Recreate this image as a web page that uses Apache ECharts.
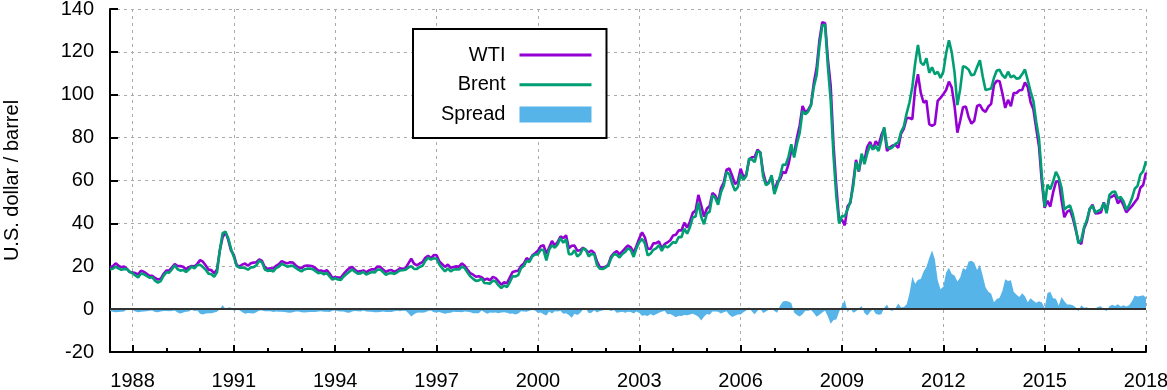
<!DOCTYPE html>
<html>
<head>
<meta charset="utf-8">
<script src="https://cdn.jsdelivr.net/npm/echarts@6/dist/echarts.min.js"></script>
<style>
html,body{margin:0;padding:0;background:#fff;}
#chart{width:1167px;height:390px;}
</style>
</head>
<body>
<div id="chart"></div>
<script>
// Monthly spot prices, first value = May 1987, last = Jan 2018
const startYear = 1987;
const startMonth = 5;
const wti = [
  19.44, 20.07, 21.34, 20.31, 19.53, 19.86, 18.85, 17.28,
  17.13, 16.80, 16.20, 17.86, 17.42, 16.53, 15.50, 15.52, 14.54, 13.77, 14.14, 16.38,
  18.02, 17.94, 19.48, 21.07, 20.12, 20.05, 19.78, 18.58, 19.59, 20.10, 19.86, 21.10,
  22.86, 22.11, 20.39, 18.43, 18.20, 16.70, 18.45, 27.31, 33.51, 36.04, 32.33, 27.28,
  25.23, 20.48, 19.90, 20.83, 21.23, 20.19, 21.40, 21.69, 21.89, 23.23, 22.46, 19.50,
  18.79, 19.01, 18.92, 20.23, 20.98, 22.39, 21.78, 21.34, 21.88, 21.69, 20.34, 19.41,
  19.03, 20.09, 20.32, 20.25, 19.95, 19.09, 17.89, 18.01, 17.50, 18.15, 16.61, 14.52,
  15.03, 14.78, 14.68, 16.42, 17.89, 19.06, 19.65, 18.38, 17.45, 17.72, 18.07, 17.16,
  18.04, 18.57, 18.54, 19.90, 19.74, 18.45, 17.33, 18.02, 18.23, 17.43, 17.99, 19.03,
  18.85, 19.09, 21.33, 23.50, 21.17, 20.42, 21.30, 21.90, 23.97, 24.88, 23.71, 25.23,
  25.13, 22.18, 20.97, 19.70, 20.82, 19.26, 19.66, 19.95, 19.80, 21.33, 20.19, 18.33,
  16.72, 16.06, 15.12, 15.35, 14.91, 13.72, 14.17, 13.47, 15.03, 14.46, 13.00, 11.35,
  12.52, 12.01, 14.68, 17.31, 17.72, 17.92, 20.10, 21.28, 23.80, 22.69, 25.00, 26.10,
  27.26, 29.37, 29.84, 25.72, 28.79, 31.82, 29.70, 31.26, 33.88, 33.11, 34.42, 28.44,
  29.59, 29.61, 27.25, 27.49, 28.63, 27.60, 26.43, 27.37, 26.20, 22.17, 19.64, 19.39,
  19.72, 20.72, 24.53, 26.18, 27.04, 25.52, 26.97, 28.39, 29.66, 28.84, 26.35, 29.46,
  32.95, 35.83, 33.51, 28.17, 28.11, 30.66, 30.76, 31.57, 28.31, 30.34, 31.11, 32.13,
  34.31, 34.69, 36.74, 36.75, 40.28, 38.03, 40.78, 44.90, 45.94, 53.28, 48.47, 43.15,
  46.84, 48.15, 54.19, 52.98, 49.83, 56.35, 59.00, 64.99, 65.59, 62.26, 58.32, 59.41,
  65.49, 61.63, 62.69, 69.44, 70.84, 70.95, 74.41, 73.04, 63.80, 58.89, 59.08, 61.96,
  54.51, 59.28, 60.44, 63.98, 63.46, 67.49, 74.12, 72.36, 79.92, 85.80, 94.77, 91.69,
  92.97, 95.39, 105.45, 112.58, 125.40, 133.88, 133.37, 116.67, 104.11, 76.61, 57.31, 41.12,
  41.71, 39.09, 47.94, 49.65, 59.03, 69.64, 64.15, 71.05, 69.41, 75.72, 77.99, 74.47,
  78.33, 76.39, 81.20, 84.29, 73.74, 75.34, 76.32, 76.60, 75.24, 81.89, 84.25, 89.15,
  89.17, 88.58, 102.86, 109.53, 100.90, 96.26, 97.30, 86.33, 85.52, 86.32, 97.16, 98.56,
  100.27, 102.20, 106.16, 103.32, 94.66, 82.30, 87.90, 94.13, 94.51, 89.49, 86.53, 87.86,
  94.76, 95.31, 92.94, 92.02, 94.51, 95.77, 104.67, 106.57, 106.29, 100.54, 93.86, 97.63,
  94.62, 100.82, 100.80, 102.07, 102.18, 105.79, 103.59, 96.54, 93.21, 84.40, 75.79, 59.29,
  47.22, 50.58, 47.82, 54.45, 59.27, 59.82, 50.90, 42.87, 45.48, 46.22, 42.44, 37.19,
  31.68, 30.32, 37.55, 40.75, 46.71, 48.76, 44.65, 44.72, 45.18, 49.78, 45.66, 51.97,
  52.50, 53.47, 49.33, 51.06, 48.48, 45.18, 46.63, 48.04, 49.82, 51.58, 56.64, 57.88,
  63.70
];
const brent = [
  18.58, 18.86, 19.86, 18.98, 18.31, 18.76, 18.67, 17.42,
  16.75, 15.73, 14.73, 16.60, 16.31, 15.49, 14.71, 14.91, 13.24, 12.34, 13.04, 15.51,
  17.16, 16.97, 18.62, 20.44, 18.58, 17.96, 18.23, 17.31, 18.44, 19.85, 19.04, 20.49,
  20.72, 19.61, 18.35, 16.56, 16.27, 15.09, 17.19, 27.24, 35.46, 36.08, 33.04, 28.05,
  24.32, 20.03, 19.36, 19.37, 19.10, 18.40, 19.46, 19.61, 20.42, 22.57, 21.80, 18.48,
  17.83, 18.07, 17.55, 19.16, 19.80, 21.17, 20.48, 19.79, 20.16, 20.19, 19.20, 18.28,
  17.63, 18.51, 18.88, 18.91, 18.63, 17.71, 16.80, 17.06, 16.26, 16.91, 15.29, 13.73,
  14.39, 13.84, 13.62, 15.27, 16.35, 17.41, 18.49, 17.48, 16.48, 16.62, 17.39, 16.09,
  16.76, 17.29, 17.06, 18.45, 18.42, 17.29, 15.98, 16.65, 16.90, 16.39, 17.19, 18.04,
  18.14, 18.36, 19.42, 20.05, 18.79, 18.75, 19.68, 20.20, 22.55, 24.06, 23.06, 23.76,
  23.54, 20.84, 19.13, 17.56, 19.02, 17.58, 18.46, 18.60, 18.46, 19.86, 19.08, 17.13,
  15.27, 14.11, 13.16, 13.41, 14.23, 12.21, 12.06, 11.91, 13.35, 12.94, 11.07, 9.82,
  11.08, 10.27, 12.51, 15.29, 15.23, 15.86, 19.08, 20.22, 22.54, 21.98, 24.58, 25.51,
  25.51, 27.78, 27.49, 22.76, 27.74, 29.80, 28.68, 30.20, 33.14, 30.96, 32.55, 25.66,
  25.62, 27.50, 24.50, 25.66, 28.31, 27.85, 24.61, 25.68, 25.62, 20.54, 18.80, 18.71,
  19.42, 20.28, 23.70, 25.73, 25.35, 24.08, 25.74, 26.65, 28.40, 27.54, 24.34, 28.33,
  31.18, 32.77, 30.61, 25.00, 25.86, 27.65, 28.35, 29.89, 27.11, 29.61, 28.75, 29.81,
  31.28, 30.86, 33.63, 33.59, 37.57, 35.18, 38.22, 42.74, 43.20, 49.78, 43.11, 39.60,
  44.51, 45.48, 53.10, 51.88, 48.65, 54.35, 57.52, 63.98, 62.91, 58.54, 55.24, 56.86,
  62.99, 60.21, 62.06, 70.26, 69.78, 68.56, 73.67, 73.23, 61.96, 57.81, 58.76, 62.47,
  53.68, 57.56, 62.05, 67.49, 67.21, 71.05, 76.93, 70.76, 77.17, 82.34, 92.41, 90.93,
  92.18, 94.99, 103.64, 109.07, 122.80, 132.32, 132.72, 113.24, 97.23, 71.58, 52.45, 39.95,
  43.44, 43.32, 46.54, 50.18, 57.30, 68.61, 64.44, 72.51, 67.65, 72.77, 76.66, 74.46,
  76.17, 73.75, 78.83, 84.82, 75.95, 74.76, 75.58, 77.04, 77.84, 82.67, 85.28, 91.45,
  96.52, 103.72, 114.64, 123.26, 114.99, 113.83, 116.97, 110.22, 112.83, 109.55, 110.77, 107.87,
  110.69, 119.33, 125.45, 119.75, 110.34, 95.16, 102.62, 113.36, 112.86, 111.71, 109.06, 109.49,
  112.96, 116.05, 108.47, 102.25, 102.56, 102.92, 107.93, 111.28, 111.60, 109.08, 107.79, 110.76,
  108.12, 108.90, 107.48, 107.76, 109.54, 111.80, 106.77, 101.61, 97.09, 87.43, 79.44, 62.34,
  47.76, 58.10, 55.89, 59.52, 64.08, 61.48, 56.56, 46.52, 47.62, 48.43, 44.27, 38.01,
  30.70, 32.18, 38.21, 41.58, 46.74, 48.25, 44.95, 45.84, 46.57, 49.52, 44.73, 53.31,
  54.58, 54.87, 51.59, 52.31, 50.33, 46.37, 48.48, 51.70, 56.15, 57.51, 62.71, 64.37,
  69.08
];
const seriesNames = ['WTI', 'Brent', 'Spread'];
const majorYears = [1988, 1991, 1994, 1997, 2000, 2003, 2006, 2009, 2012, 2015, 2018];
const minorYears = [];
for (let y = 1988; y <= 2018; y++) minorYears.push(y);
const yTicks = { min: -20, max: 140, step: 20 };
const yTitle = 'U.S. dollar / barrel';

// build time coordinate (decimal year) from the month index
const xs = wti.map((_, i) => startYear + (startMonth - 1 + i) / 12);
const xMin = xs[0];
const xMax = xs[xs.length - 1];
const wtiData = wti.map((v, i) => [xs[i], v]);
const brentData = brent.map((v, i) => [xs[i], v]);
const spreadData = brent.map((v, i) => [xs[i], +(v - wti[i]).toFixed(2)]);

const FONT = 'Liberation Sans, Arial, sans-serif';
const chart = echarts.init(document.getElementById('chart'), null, { renderer: 'canvas' });
const linePath = 'path://M0,0 L72,0 L72,3 L0,3 Z';

chart.setOption({
  animation: false,
  textStyle: { fontFamily: FONT, color: '#000' },
  grid: { left: 110, right: 21, top: 9, bottom: 38, containLabel: false, outerBoundsMode: 'none' },
  legend: {
    orient: 'vertical',
    left: 413,
    top: 29,
    align: 'right',
    itemWidth: 72,
    itemHeight: 16,
    itemGap: 9.75,
    padding: [16, 15, 13.5, 28],
    borderColor: '#000',
    borderWidth: 2,
    backgroundColor: '#fff',
    symbolKeepAspect: true,
    itemStyle: { borderWidth: 0 },
    textStyle: { fontSize: 20, fontFamily: FONT, color: '#000', lineHeight: 16, padding: [0, 9, 0, 0] },
    data: [
      { name: seriesNames[0], icon: linePath },
      { name: seriesNames[1], icon: linePath },
      { name: seriesNames[2], icon: 'rect' }
    ]
  },
  xAxis: [
    {
      type: 'value', min: xMin, max: xMax, position: 'bottom',
      axisLine: { show: true, onZero: false, lineStyle: { color: '#000', width: 2 } },
      axisTick: { show: true, inside: true, length: 4, customValues: minorYears, lineStyle: { color: '#000', width: 2 } },
      axisLabel: { show: false },
      splitLine: { show: false }
    },
    {
      type: 'value', min: xMin, max: xMax, position: 'bottom',
      axisLine: { show: false, onZero: false },
      axisTick: { show: true, inside: true, length: 7, customValues: majorYears, lineStyle: { color: '#000', width: 2 } },
      axisLabel: { show: true, customValues: majorYears, fontSize: 20, color: '#000', margin: 19, fontFamily: FONT,
                   formatter: v => String(Math.round(v)), hideOverlap: false, showMinLabel: true, showMaxLabel: true },
      splitLine: { show: true, lineStyle: { color: '#aaa', width: 1, type: [3, 4] } }
    }
  ],
  yAxis: {
    type: 'value', min: yTicks.min, max: yTicks.max, interval: yTicks.step,
    name: yTitle, nameLocation: 'middle', nameGap: 88, nameRotate: 90,
    nameTextStyle: { fontSize: 20, color: '#000', fontFamily: FONT },
    axisLine: { show: true, onZero: false, lineStyle: { color: '#000', width: 2 } },
    axisTick: { show: true, inside: true, length: 8, lineStyle: { color: '#000', width: 2 } },
    axisLabel: { fontSize: 20, color: '#000', margin: 16, fontFamily: FONT },
    splitLine: { show: true, lineStyle: { color: '#aaa', width: 1, type: [3, 4] } }
  },
  series: [
    {
      name: seriesNames[2], type: 'line', xAxisIndex: 0, data: spreadData,
      showSymbol: false, symbol: 'none', color: '#56B4E9',
      lineStyle: { width: 0 }, areaStyle: { color: '#56B4E9', opacity: 1, origin: 0 },
      markLine: {
        silent: true, symbol: ['none', 'none'], label: { show: false },
        lineStyle: { color: '#333', width: 2, type: 'solid' },
        data: [{ yAxis: 0 }]
      }
    },
    {
      name: seriesNames[0], type: 'line', xAxisIndex: 0, data: wtiData,
      showSymbol: false, symbol: 'none', color: '#9400D3',
      lineStyle: { width: 2.6, color: '#9400D3' }
    },
    {
      name: seriesNames[1], type: 'line', xAxisIndex: 0, data: brentData,
      showSymbol: false, symbol: 'none', color: '#009E73',
      lineStyle: { width: 2.6, color: '#009E73' }
    }
  ]
});
</script>
</body>
</html>
